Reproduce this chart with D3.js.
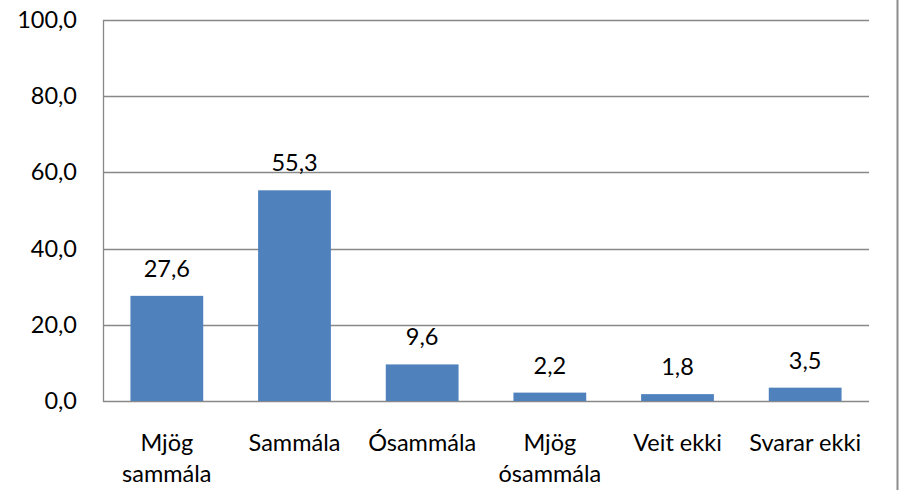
<!DOCTYPE html>
<html>
<head>
<meta charset="utf-8">
<script src="https://cdn.jsdelivr.net/npm/d3@7"></script>
<style>
  body { margin: 0; background: #fff; }
  svg { display: block; }
</style>
</head>
<body>
<svg id="chart" width="906" height="490"></svg>
<script>
// data
var categories = [["Mjög", "sammála"], ["Sammála"], ["Ósammála"], ["Mjög", "ósammála"], ["Veit ekki"], ["Svarar ekki"]];
var values = [27.6, 55.3, 9.6, 2.2, 1.8, 3.5];
var yTicks = [0, 20, 40, 60, 80, 100];

var svg = d3.select("#chart");
var font = "Lato, 'Open Sans', sans-serif";
var fs = "23.5px";
var fmt = function(v) { return v.toFixed(1).replace(".", ","); };

var plotL = 103, plotR = 869, plotT = 20, plotB = 401;

var x = d3.scaleBand()
    .domain(d3.range(values.length))
    .range([plotL, plotR])
    .paddingInner(0.43)
    .paddingOuter(0.215);

var y = d3.scaleLinear()
    .domain([0, 100])
    .range([plotB, plotT]);

// right border
svg.append("line")
    .attr("x1", 897.5).attr("x2", 897.5)
    .attr("y1", 0).attr("y2", 490)
    .attr("stroke", "#8c8c8c")
    .attr("stroke-width", 2);

// gridlines
svg.selectAll("line.grid")
    .data(yTicks)
    .enter()
    .append("line")
    .attr("class", "grid")
    .attr("x1", plotL)
    .attr("x2", plotR)
    .attr("y1", function(d) { return Math.round(y(d)) + 0.5; })
    .attr("y2", function(d) { return Math.round(y(d)) + 0.5; })
    .attr("stroke", "#888")
    .attr("stroke-width", 1.3);

// y axis line
svg.append("line")
    .attr("x1", plotL + 0.5).attr("x2", plotL + 0.5)
    .attr("y1", plotT).attr("y2", plotB + 1)
    .attr("stroke", "#888")
    .attr("stroke-width", 1.3);

svg.selectAll("text.ytick")
    .data(yTicks)
    .enter()
    .append("text")
    .attr("class", "ytick")
    .attr("x", 77)
    .attr("y", function(d) { return y(d) + 8; })
    .attr("text-anchor", "end")
    .attr("font-family", font)
    .attr("font-size", fs)
    .attr("fill", "#000")
    .text(function(d) { return fmt(d); });

// bars
svg.selectAll("rect.bar")
    .data(values)
    .enter()
    .append("rect")
    .attr("class", "bar")
    .attr("x", function(d, i) { return x(i); })
    .attr("y", function(d) { return y(d); })
    .attr("width", x.bandwidth())
    .attr("height", function(d) { return y(0) - y(d); })
    .style("fill", "#4f81bd");

// value labels
svg.selectAll("text.val")
    .data(values)
    .enter()
    .append("text")
    .attr("class", "val")
    .attr("x", function(d, i) { return x(i) + x.bandwidth() / 2; })
    .attr("y", function(d) { return y(d) - 19; })
    .attr("text-anchor", "middle")
    .attr("font-family", font)
    .attr("font-size", fs)
    .attr("fill", "#000")
    .text(function(d) { return fmt(d); });

// category labels
var cat = svg.selectAll("text.cat")
    .data(categories)
    .enter()
    .append("text")
    .attr("class", "cat")
    .attr("text-anchor", "middle")
    .attr("font-family", font)
    .attr("font-size", fs)
    .attr("fill", "#000");

cat.selectAll("tspan")
    .data(function(d, i) { return d.map(function(t) { return { t: t, i: i }; }); })
    .enter()
    .append("tspan")
    .attr("x", function(d) { return x(d.i) + x.bandwidth() / 2; })
    .attr("y", function(d, j) { return 451 + j * 31; })
    .text(function(d) { return d.t; });
</script>
</body>
</html>
